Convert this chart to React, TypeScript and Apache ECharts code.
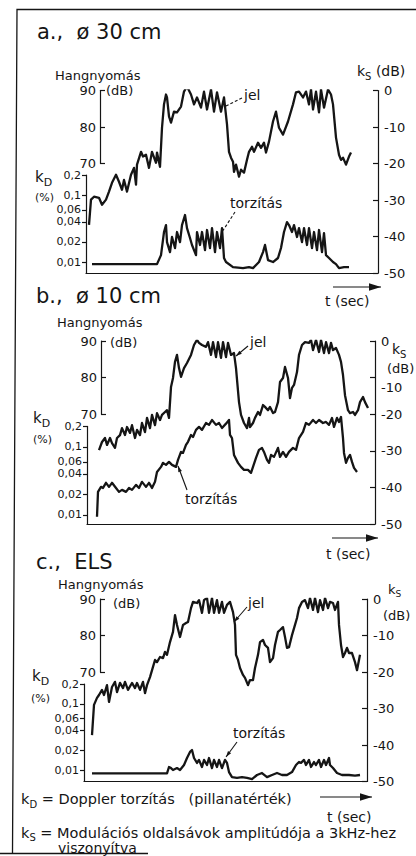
import React, { useEffect, useRef } from 'react';
import * as echarts from 'echarts';

const INK = '#151515';
const FONT = '"DejaVu Sans", "Liberation Sans", Arial, sans-serif';

// ---------- data (time in arbitrary units, Hangnyomás in dB, k_D in %) ----------
// panel a (ø 30 cm)
const tJelA = [0.3,0.5,0.8,1.3,1.6,2.0,2.3,2.6,3.0,3.3,3.6,3.8,4.1,4.5,4.8,5.0,5.1,5.5,5.7,6.0,6.3,6.6,7.0,7.1,7.4,7.6,7.8,8.0,8.1,8.3,8.5,8.8,9.1,9.5,9.8,10.1,10.5,10.8,11.1,11.5,11.8,12.1,12.5,12.8,13.1,13.5,13.8,14.1,14.3,14.5,14.7,14.8,15.0,15.3,15.5,15.8,16.1,16.3,16.6,16.8,17.2,17.5,17.8,18.0,18.3,18.7,19.0,19.2,19.3,19.7,20.2,20.7,21.0,21.3,21.7,22.0,22.3,22.5,22.7,23.0,23.3,23.5,23.8,24.2,24.5,24.7,25.0,25.3,25.5,25.7,26.0,26.3,26.5];
const jelA = [53.2,60.1,60.9,60.6,58.7,60.1,62.3,64.7,66.9,65.0,62.8,65.5,62.3,66.9,68.8,64.2,69.7,73.2,71.9,72.4,68.8,73.2,70.2,73.0,69.1,79.8,86.2,88.9,88.1,82.9,81.2,84.2,84.0,85.6,89.7,91.1,88.9,86.2,88.1,85.3,89.7,84.8,90.3,84.2,89.5,84.2,88.1,80.7,73.2,71.6,70.5,67.7,69.7,66.4,68.3,67.5,71.0,73.2,74.6,73.2,75.7,74.3,75.7,73.0,76.0,81.5,84.2,81.2,79.8,77.9,81.5,86.2,89.5,89.7,88.1,89.7,86.2,90.3,84.8,89.7,84.0,90.3,85.3,90.3,88.9,86.2,77.1,72.4,71.0,71.6,69.7,71.9,73.0];
const tTorzA = [0.6,7.1,7.5,7.8,8.0,8.1,8.4,8.6,8.9,9.1,9.4,9.6,9.9,10.1,10.4,10.6,11.0,11.1,11.4,11.6,11.9,12.1,12.4,12.6,12.9,13.1,13.4,13.6,13.8,14.0,14.7,15.7,16.3,16.7,17.3,17.7,17.9,18.2,18.7,19.2,19.5,19.8,20.1,20.3,20.6,20.8,21.1,21.3,21.6,21.8,22.1,22.3,22.6,22.8,23.1,23.3,23.6,23.8,24.0,24.3,24.7,25.0,25.3,25.8,26.3];
const torzA = [0.0093,0.0093,0.0127,0.0281,0.0357,0.0199,0.0141,0.0237,0.0162,0.0281,0.0199,0.0357,0.0505,0.0322,0.0229,0.0180,0.0127,0.0281,0.0180,0.0281,0.0151,0.0301,0.0162,0.0322,0.0141,0.0281,0.0162,0.0322,0.0115,0.0100,0.0084,0.0081,0.0084,0.0081,0.0100,0.0141,0.0180,0.0107,0.0100,0.0115,0.0162,0.0281,0.0396,0.0357,0.0281,0.0357,0.0237,0.0322,0.0199,0.0322,0.0180,0.0322,0.0162,0.0281,0.0151,0.0301,0.0141,0.0271,0.0127,0.0115,0.0100,0.0093,0.0081,0.0084,0.0084];

// panel b (ø 10 cm)
const tJelB = [1.2,1.5,1.8,2.0,2.3,2.5,2.8,3.0,3.3,3.5,3.8,4.0,4.3,4.5,4.8,5.0,5.3,5.5,5.8,6.0,6.3,6.5,6.8,7.0,7.3,7.5,7.8,8.0,8.2,8.4,8.6,8.8,9.0,9.2,9.4,9.7,10.0,10.4,10.7,11.0,11.2,11.5,11.9,12.1,12.4,12.6,12.9,13.1,13.4,13.6,13.9,14.1,14.4,14.7,14.9,15.2,15.4,15.7,16.0,16.2,16.3,16.6,16.8,17.1,17.3,17.6,17.8,18.1,18.3,18.6,18.8,19.1,19.3,19.6,19.8,20.1,20.3,20.5,20.7,21.0,21.2,21.5,21.8,22.2,22.4,22.6,22.9,23.2,23.4,23.7,23.9,24.2,24.4,24.6,24.9,25.2,25.4,25.6,25.8,26.1,26.3,26.6,26.8,27.1,27.3,27.6,27.8,28.1];
const jelB = [60.2,62.4,63.5,61.6,63.5,62.1,60.8,63.5,64.3,66.2,64.3,66.5,64.9,67.0,63.5,65.7,64.3,67.6,65.1,69.0,66.2,69.8,67.0,70.3,68.4,69.8,70.6,71.1,69.0,77.4,79.9,84.3,86.2,82.6,80.2,82.6,84.0,86.2,88.9,90.3,89.5,88.9,88.4,89.7,86.2,89.7,85.6,89.7,85.4,89.7,85.6,89.5,86.2,86.7,82.6,73.3,69.8,67.6,66.2,69.0,66.5,67.6,69.0,70.6,69.8,72.5,72.0,71.1,72.0,70.3,70.6,73.3,78.8,79.9,82.9,79.9,74.4,77.2,78.0,81.5,86.2,88.9,89.7,89.5,90.3,87.5,90.3,87.0,90.3,86.7,89.7,86.7,89.5,87.5,88.1,86.2,84.3,80.7,75.2,71.1,70.3,70.6,69.8,71.1,73.3,74.7,73.3,71.7];
const tTorzB = [1.0,1.1,1.4,1.6,1.9,2.2,2.5,2.9,3.2,3.5,3.9,4.2,4.5,4.9,5.2,5.5,5.9,6.2,6.5,6.8,7.0,7.4,7.6,7.9,8.2,8.5,8.9,9.1,9.4,9.6,9.9,10.1,10.4,10.6,10.9,11.2,11.5,11.9,12.2,12.5,12.9,13.2,13.5,13.9,14.2,14.3,14.5,14.7,15.1,15.4,15.7,16.1,16.4,16.6,16.9,17.2,17.5,17.7,18.0,18.2,18.4,18.7,19.1,19.3,19.6,19.9,20.2,20.6,20.9,21.2,21.6,21.9,22.2,22.6,22.9,23.2,23.6,23.9,24.2,24.5,24.7,25.0,25.2,25.4,25.6,25.7,25.9,26.1,26.3,26.5,26.7,27.0];
const torzB = [0.0094,0.0218,0.0258,0.0249,0.0296,0.0258,0.0296,0.0249,0.0218,0.0233,0.0218,0.0249,0.0233,0.0276,0.0249,0.0306,0.0258,0.0296,0.0249,0.0306,0.0428,0.0508,0.0582,0.0544,0.0602,0.0544,0.0508,0.0644,0.0844,0.0816,0.107,0.119,0.150,0.140,0.178,0.197,0.178,0.225,0.211,0.249,0.211,0.225,0.190,0.220,0.249,0.150,0.135,0.0762,0.0582,0.0508,0.0459,0.0459,0.0415,0.0508,0.0689,0.0904,0.0967,0.0844,0.0644,0.0582,0.0762,0.0713,0.0967,0.0713,0.0844,0.0713,0.0844,0.0967,0.0904,0.135,0.166,0.225,0.211,0.249,0.225,0.249,0.225,0.233,0.211,0.267,0.197,0.267,0.233,0.276,0.135,0.0816,0.0582,0.0689,0.0762,0.0602,0.0491,0.0428];

// panel c (ELS)
const tJelC = [0.8,1.0,1.3,1.5,1.8,2.0,2.3,2.5,2.8,3.1,3.3,3.6,3.9,4.1,4.4,4.8,5.1,5.3,5.6,5.9,6.1,6.3,6.6,6.9,7.1,7.3,7.6,7.9,8.1,8.3,8.6,8.9,9.1,9.3,9.6,9.9,10.2,10.4,10.7,10.9,11.3,11.5,11.8,12.0,12.3,12.5,12.8,13.0,13.3,13.5,13.8,14.0,14.3,14.6,14.9,15.1,15.2,15.4,15.6,15.9,16.1,16.4,16.6,16.9,17.1,17.4,17.6,17.9,18.1,18.4,18.6,18.9,19.1,19.4,19.6,19.9,20.1,20.3,20.5,20.8,21.1,21.3,21.5,21.8,22.1,22.4,22.6,22.9,23.1,23.4,23.6,23.9,24.1,24.4,24.6,24.9,25.1,25.4,25.5,25.7,25.9,26.1,26.3,26.5,26.8,27.1,27.3,27.5,27.6];
const jelC = [52.7,61.0,62.9,63.7,65.1,63.7,66.4,61.8,65.9,67.3,64.5,67.0,65.6,67.3,65.1,67.0,65.6,67.0,65.1,67.3,64.2,66.4,68.6,71.4,73.3,72.7,74.1,73.8,75.5,74.7,78.2,81.0,85.6,82.9,79.6,82.9,83.4,83.7,87.5,89.2,88.9,89.7,86.2,89.7,90.3,86.2,90.3,86.2,89.7,86.2,89.2,86.2,88.4,89.2,86.4,82.9,74.7,73.3,71.1,69.2,68.4,66.4,67.8,67.8,71.1,74.7,78.2,78.8,77.4,76.6,72.7,73.8,77.4,81.0,81.5,82.3,79.6,76.6,76.8,80.1,82.9,84.8,87.5,89.2,89.7,87.5,90.3,87.0,90.3,86.4,89.7,87.0,90.3,87.5,89.2,88.9,87.0,89.2,82.9,77.4,74.1,75.2,76.6,75.2,75.2,72.7,70.5,73.3,74.7];
const tTorzC = [0.8,8.3,8.5,8.7,8.9,9.3,9.6,10.0,10.3,10.6,10.8,11.0,11.3,11.5,11.8,12.0,12.3,12.5,12.8,13.0,13.3,13.5,13.8,14.1,14.3,14.5,14.8,15.3,15.8,16.3,16.8,17.3,17.8,18.3,18.8,19.3,19.8,20.3,20.8,21.2,21.5,21.7,22.0,22.2,22.5,22.7,23.0,23.2,23.5,23.7,24.0,24.2,24.5,24.6,24.9,25.3,25.8,26.5,27.1,27.6];
const torzC = [0.0089,0.0089,0.0111,0.0107,0.0100,0.0107,0.0100,0.0119,0.0152,0.0188,0.0201,0.0152,0.0128,0.0142,0.0111,0.0142,0.0119,0.0152,0.0107,0.0142,0.0111,0.0142,0.0107,0.0142,0.0128,0.0093,0.0078,0.0076,0.0078,0.0076,0.0073,0.0084,0.0090,0.0078,0.0084,0.0090,0.0084,0.0084,0.0093,0.0119,0.0132,0.0128,0.0142,0.0119,0.0142,0.0111,0.0132,0.0119,0.0142,0.0111,0.0142,0.0119,0.0152,0.0119,0.0107,0.0090,0.0084,0.0084,0.0082,0.0084];

// axis ticks
const hangTicks = [70, 80, 90];
const kdTicks = [0.01, 0.02, 0.04, 0.06, 0.1, 0.2];
const ksMin = -50;
const ksMax = 0;
const ksStep = 10;

// ---------- layout ----------
const panels = [
  { L: 86, R: 378, top: 90.5, bottom: 273, hx: 100, ks001: -47.0, ks02: -23.15, tMax: 29.2, lowTen: false, jelT: tJelA, jel: jelA, torzT: tTorzA, torz: torzA },
  { L: 87, R: 375, top: 341, bottom: 524, hx: 101, ks001: -47.5, ks02: -23.35, tMax: 28.8, lowTen: true, jelT: tJelB, jel: jelB, torzT: tTorzB, torz: torzB },
  { L: 84, R: 367, top: 599, bottom: 781.5, hx: 100, ks001: -46.85, ks02: -23.3, tMax: 28.3, lowTen: false, jelT: tJelC, jel: jelC, torzT: tTorzC, torz: torzC },
];

const pairs = (t: number[], v: number[]) => t.map((x, i) => [x, v[i]]);

const axisLineStyle = { color: INK, width: 1.2 };

function txt(text: string, x: number, y: number, size: number) {
  return {
    type: 'text', x, y, silent: true,
    style: { text, fill: INK, fontSize: size, fontFamily: FONT, align: 'left', verticalAlign: 'middle' },
  };
}

function sub(main: string, s: string, rest: string, x: number, y: number, size: number) {
  return {
    type: 'text', x, y, silent: true,
    style: {
      text: `{m|${main}}{s|${s}}` + (rest ? `{r|${rest}}` : ''),
      fill: INK, fontSize: size, fontFamily: FONT, align: 'left', verticalAlign: 'middle',
      rich: {
        m: { fontSize: size, fontFamily: FONT, fill: INK, lineHeight: size + 6 },
        s: { fontSize: Math.round(size * 0.72), fontFamily: FONT, fill: INK, verticalAlign: 'bottom' },
        r: { fontSize: size, fontFamily: FONT, fill: INK, lineHeight: size + 6 },
      },
    },
  };
}

function line(x1: number, y1: number, x2: number, y2: number, w = 1.1, dash?: number[]) {
  return { type: 'line', silent: true, shape: { x1, y1, x2, y2 }, style: { stroke: INK, lineWidth: w, lineDash: dash } };
}

function arrow(x1: number, y1: number, x2: number, y2: number, head = 7, w = 1.1) {
  const a = Math.atan2(y2 - y1, x2 - x1);
  const bx = x2 - head * Math.cos(a);
  const by = y2 - head * Math.sin(a);
  const nx = -Math.sin(a) * head * 0.32;
  const ny = Math.cos(a) * head * 0.32;
  return [
    line(x1, y1, x2, y2, w),
    { type: 'polygon', silent: true, shape: { points: [[x2, y2], [bx + nx, by + ny], [bx - nx, by - ny]] }, style: { fill: INK } },
  ];
}

function buildOption() {
  const grid: any[] = [];
  const xAxis: any[] = [];
  const yAxis: any[] = [];
  const series: any[] = [];

  panels.forEach((p, i) => {
    const h = p.bottom - p.top;
    const s = h / (ksMax - ksMin);
    const dec = (p.ks02 - p.ks001) / Math.log10(0.2 / 0.01);
    const kdAt = (ks: number) => 0.01 * Math.pow(10, (ks - p.ks001) / dec);
    const kdMin = kdAt(ksMin);
    const kdMax = kdAt(ksMax);
    const kTop = p.top + (ksMax - p.ks02) * s;
    const hTopVal = 90;

    grid.push({ left: p.L, top: p.top, width: p.R - p.L, height: h });
    grid.push({ left: p.hx, top: p.top, width: 20, height: (hTopVal - hangTicks[0]) * s });
    grid.push({ left: p.L, top: kTop, width: 20, height: p.bottom - kTop });

    const g = i * 3;
    xAxis.push({
      gridIndex: g, type: 'value', min: 0, max: p.tMax,
      axisLine: { show: true, onZero: false, lineStyle: axisLineStyle },
      axisTick: { show: false }, axisLabel: { show: false }, splitLine: { show: false },
    });
    xAxis.push({ gridIndex: g + 1, type: 'value', min: 0, max: 1, show: false });
    xAxis.push({ gridIndex: g + 2, type: 'value', min: 0, max: 1, show: false });

    // k_S right axis
    yAxis.push({
      gridIndex: g, type: 'value', position: 'right', min: ksMin, max: ksMax, interval: ksStep,
      axisLine: { show: true, onZero: false, lineStyle: axisLineStyle },
      axisTick: { show: true, inside: true, length: 5, lineStyle: axisLineStyle },
      axisLabel: {
        color: INK, fontSize: 13, fontFamily: FONT, margin: 6,
        formatter: (v: number) => (p.lowTen && v === -10 ? `{lo|${v}}` : `{n|${v}}`),
        rich: {
          n: { fontSize: 13, fontFamily: FONT, color: INK },
          lo: { fontSize: 13, fontFamily: FONT, color: INK, padding: [20, 0, 0, 0] },
        },
      },
      splitLine: { show: false },
    });
    // hidden Hangnyomás scale for the signal (90 dB at k_S = 0)
    yAxis.push({ gridIndex: g, type: 'value', min: hTopVal + ksMin, max: hTopVal + ksMax, show: false });
    // hidden k_D log scale for the distortion
    yAxis.push({ gridIndex: g, type: 'log', logBase: 10, min: kdMin, max: kdMax, show: false });
    // visible Hangnyomás axis
    yAxis.push({
      gridIndex: g + 1, type: 'value', position: 'left', min: hangTicks[0], max: hangTicks[hangTicks.length - 1], interval: 10,
      axisLine: { show: true, onZero: false, lineStyle: axisLineStyle },
      axisTick: { show: true, inside: true, length: 5, lineStyle: axisLineStyle },
      axisLabel: { color: INK, fontSize: 13, fontFamily: FONT, margin: 4 },
      splitLine: { show: false },
    });
    // visible k_D axis
    yAxis.push({
      gridIndex: g + 2, type: 'log', logBase: 10, position: 'left', min: kdMin, max: 0.2 * 1.0005,
      axisLine: { show: true, onZero: false, lineStyle: axisLineStyle },
      axisTick: { show: true, length: 4, customValues: kdTicks, lineStyle: axisLineStyle },
      axisLabel: {
        color: INK, fontSize: 11, fontFamily: FONT, margin: 5, customValues: kdTicks,
        formatter: (v: number) => String(Number(Number(v).toPrecision(2))).replace('.', ','),
      },
      splitLine: { show: false }, minorTick: { show: false },
    });

    series.push({
      name: 'jel', type: 'line', xAxisIndex: g, yAxisIndex: i * 5 + 1,
      data: pairs(p.jelT, p.jel), symbol: 'none', showSymbol: false,
      lineStyle: { color: INK, width: 2.3, join: 'round' }, z: 3,
    });
    series.push({
      name: 'torzítás', type: 'line', xAxisIndex: g, yAxisIndex: i * 5 + 2,
      data: pairs(p.torzT, p.torz), symbol: 'none', showSymbol: false,
      lineStyle: { color: INK, width: 2.3, join: 'round' }, z: 3,
    });
  });

  const graphic: any[] = [
    // frame
    { type: 'polyline', silent: true, shape: { points: [[416, 9.5], [17, 9.5], [12.5, 853.5]] }, style: { stroke: INK, lineWidth: 1.3, fill: null } },
    line(0, 853.5, 148, 853.5, 1.3),

    // panel a
    txt('a.,  ø 30 cm', 37, 32, 21),
    txt('Hangnyomás', 55, 75, 13),
    txt('(dB)', 106, 90, 13),
    sub('k', 'S', ' (dB)', 357, 71, 14),
    sub('k', 'D', '', 35, 177, 15),
    txt('(%)', 35, 197, 11),
    txt('jel', 244, 95, 14),
    line(242, 98, 224, 107, 1.1, [3, 2]),
    txt('torzítás', 230, 203, 14),
    line(235, 212, 222, 232, 1.1, [3, 2]),
    ...arrow(333, 287, 381, 287, 12),
    txt('t (sec)', 325, 301, 14),

    // panel b
    txt('b.,  ø 10 cm', 36, 296, 21),
    txt('Hangnyomás', 57, 322, 13),
    txt('(dB)', 110, 342, 13),
    sub('k', 'S', '', 392, 349, 14),
    txt('(dB)', 387, 368, 13),
    sub('k', 'D', '', 33, 418, 15),
    txt('(%)', 33, 439, 11),
    txt('jel', 250, 342, 14),
    ...arrow(248, 346, 236, 356, 6),
    txt('torzítás', 185, 499, 14),
    ...arrow(187, 490, 178, 466, 6),
    ...arrow(332, 538, 378, 538, 12),
    txt('t (sec)', 326, 554, 14),

    // panel c
    txt('c.,  ELS', 36, 562, 21),
    txt('Hangnyomás', 58, 584.5, 13),
    txt('(dB)', 113, 603, 13),
    sub('k', 'S', '', 388, 589, 13),
    txt('(dB)', 383, 615, 13),
    sub('k', 'D', '', 32, 676, 15),
    txt('(%)', 31, 698, 11),
    txt('jel', 248, 603, 14),
    ...arrow(247, 607, 234, 622, 6),
    txt('torzítás', 233, 733, 14),
    ...arrow(237, 742, 226, 757, 6),
    ...arrow(320, 797, 372, 797, 12),
    txt('t (sec)', 327, 817, 14),

    // footnotes
    sub('k', 'D', ' = Doppler torzítás   (pillanatérték)', 21, 799, 14.5),
    sub('k', 'S', ' = Modulációs oldalsávok amplitúdója a 3kHz-hez', 21, 832.5, 14.5),
    txt('viszonyítva', 58, 848, 14),
  ];

  return {
    animation: false,
    backgroundColor: '#ffffff',
    grid, xAxis, yAxis, series, graphic,
  };
}

export default function App() {
  const ref = useRef<HTMLDivElement>(null);
  useEffect(() => {
    if (!ref.current) return;
    const chart = echarts.init(ref.current, null, { renderer: 'svg' });
    chart.setOption(buildOption() as any);
    return () => chart.dispose();
  }, []);
  return (
    <div
      ref={ref}
      style={{ position: 'fixed', left: 0, top: 0, width: 416, height: 856, background: '#fff' }}
    />
  );
}
